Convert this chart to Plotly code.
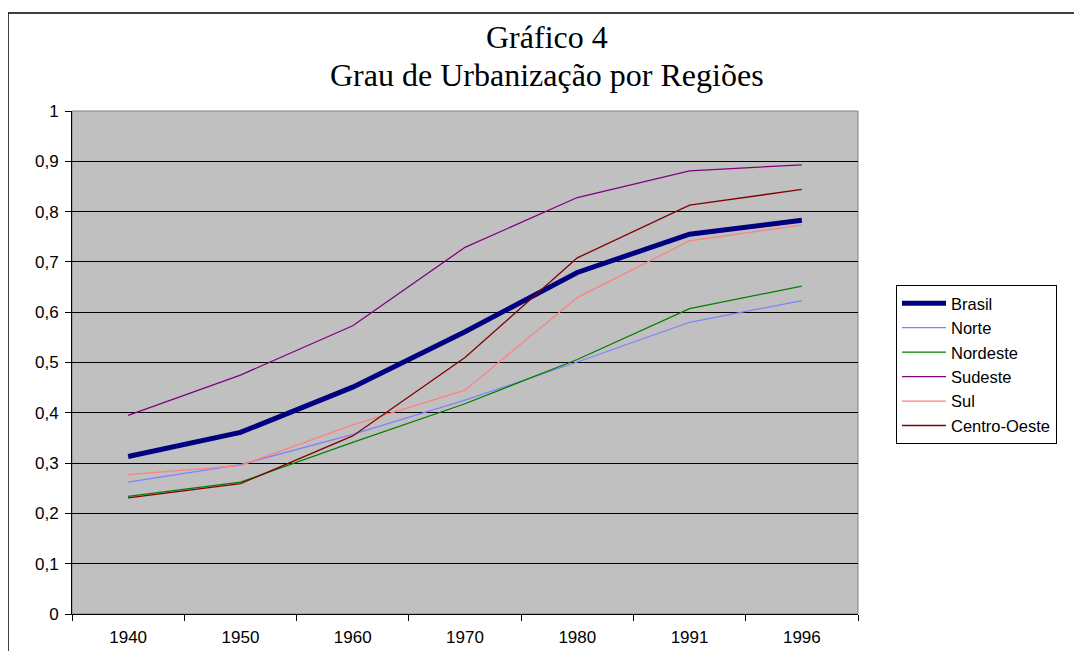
import plotly.graph_objects as go

years = ["1940", "1950", "1960", "1970", "1980", "1991", "1996"]
brasil = [0.313, 0.361, 0.451, 0.561, 0.679, 0.755, 0.783]
norte = [0.262, 0.297, 0.357, 0.425, 0.501, 0.580, 0.623]
nordeste = [0.234, 0.262, 0.341, 0.418, 0.506, 0.607, 0.652]
sudeste = [0.395, 0.475, 0.573, 0.729, 0.828, 0.881, 0.893]
sul = [0.277, 0.295, 0.376, 0.445, 0.629, 0.742, 0.773]
centro_oeste = [0.231, 0.259, 0.354, 0.510, 0.708, 0.813, 0.844]
y_ticks = [0, 0.1, 0.2, 0.3, 0.4, 0.5, 0.6, 0.7, 0.8, 0.9, 1]
title_lines = ["Gráfico 4", "Grau de Urbanização por Regiões"]

series = [
    ("Brasil", brasil, "#000080", 5),
    ("Norte", norte, "#8080FF", 1.3),
    ("Nordeste", nordeste, "#008000", 1.3),
    ("Sudeste", sudeste, "#800080", 1.3),
    ("Sul", sul, "#FF8080", 1.3),
    ("Centro-Oeste", centro_oeste, "#800000", 1.3),
]

fig = go.Figure()
for name, vals, color, w in series:
    fig.add_trace(go.Scatter(x=years, y=vals, name=name, mode="lines",
                             line=dict(color=color, width=w)))

# page body adds an 8px offset; work in figure coordinates = screen - 8
OFF = 8
W, H = 1082, 651
L, R, T, B = 72 - OFF, W - (858 - OFF), 111 - OFF, H - (614 - OFF)
pw, ph = W - L - R, H - T - B

def px(x):
    return (x - OFF - L) / pw

def py(y):
    return (H - B - (y - OFF)) / ph

annotations = []
for line_text, yc in zip(title_lines, [37, 75]):
    annotations.append(dict(
        text=line_text, x=px(547), y=py(yc), xref="paper", yref="paper",
        xanchor="center", yanchor="middle", showarrow=False,
        font=dict(family="Liberation Serif, Times New Roman", size=32, color="black")))

fig.update_layout(
    width=W, height=H,
    margin=dict(l=L, r=R, t=T, b=B, pad=0, autoexpand=False),
    paper_bgcolor="white",
    plot_bgcolor="#C0C0C0",
    separators=", ",
    font=dict(family="Liberation Sans, Arial", size=17, color="black"),
    showlegend=True,
    legend=dict(
        x=px(896), y=py(285), xanchor="left", yanchor="top",
        bordercolor="black", borderwidth=1, bgcolor="white",
        font=dict(family="Liberation Sans, Arial", size=16.5),
        tracegroupgap=0, itemwidth=44,
    ),
    xaxis=dict(
        type="category", tickson="boundaries", ticks="outside", ticklen=6,
        tickcolor="black", showline=True, linecolor="black", linewidth=1,
        showgrid=False, zeroline=False, range=[-0.5, 6.5],
        tickfont=dict(size=17), ticklabelstandoff=8,
    ),
    yaxis=dict(
        range=[0, 1], tickvals=y_ticks, ticks="outside", ticklen=6,
        tickcolor="black", showline=True, linecolor="black", linewidth=1,
        showgrid=True, gridcolor="black", gridwidth=1, zeroline=False,
        tickfont=dict(size=17), ticklabelstandoff=3,
    ),
    annotations=annotations,
    shapes=[
        dict(type="rect", xref="paper", yref="paper",
             x0=px(8), x1=px(1300), y0=py(13), y1=py(900),
             line=dict(color="black", width=1.5), layer="below"),
        dict(type="rect", xref="paper", yref="paper",
             x0=0, x1=1, y0=0, y1=1,
             line=dict(color="#808080", width=1), layer="below"),
    ],
)

fig.write_html("out.html")
